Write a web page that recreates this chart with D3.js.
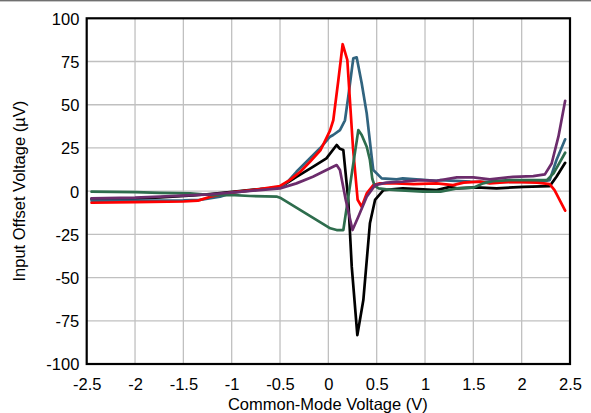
<!DOCTYPE html>
<html>
<head>
<meta charset="utf-8">
<script src="https://cdn.jsdelivr.net/npm/d3@7"></script>
<style>
html,body{margin:0;padding:0;background:#fff;}
svg{display:block;font-family:"Liberation Sans",Arial,sans-serif;}
</style>
</head>
<body>
<svg id="chart" width="591" height="413"></svg>
<script>
// ---- data ----
const xTicks = [-2.5,-2,-1.5,-1,-0.5,0,0.5,1,1.5,2,2.5];
const xTickLabels = ["-2.5","-2","-1.5","-1","-0.5","0","0.5","1","1.5","2","2.5"];
const yTicks = [-100,-75,-50,-25,0,25,50,75,100];
const yTickLabels = ["-100","-75","-50","-25","0","25","50","75","100"];
const xTitle = "Common-Mode Voltage (V)";
const yTitle = "Input Offset Voltage (µV)";

const blackV = [-2.45,-2.0,-1.74,-1.4,-1.2,-1.02,-0.71,-0.5,-0.33,-0.16,-0.02,0.086,0.12,0.155,0.206,0.242,0.3,0.362,0.43,0.483,0.57,0.77,0.98,1.12,1.26,1.33,1.53,1.74,2.02,2.29,2.36,2.45];
const blackUV = [-4.5,-4.3,-3.6,-2.5,-1.5,-0.5,1.2,2.2,8.3,14.1,19,26.7,24.5,23.8,-5,-43.7,-83.3,-63,-18.6,-5.1,0.6,1.6,1,0.6,2.5,1.6,2.2,1.6,2.5,2.9,8.3,16.4];

const blueV = [-2.45,-2.0,-1.5,-1.33,-1.12,-1.0,-0.71,-0.5,-0.42,-0.33,-0.19,-0.086,0.017,0.05,0.12,0.172,0.206,0.258,0.293,0.345,0.397,0.448,0.465,0.552,0.707,0.77,1.12,1.16,1.47,1.81,2.19,2.29,2.36,2.45];
const blueUV = [-5.5,-5.5,-5.3,-5.0,-3.2,-1.0,1.0,2.2,5.5,11.2,19,24.8,31.5,32.5,35.3,41,54.6,76.8,77.4,62.4,45,19.9,12.2,7.4,6.8,7.4,6,6.4,5.5,5.4,5.4,6.4,18,30];

const redV = [-2.45,-2.0,-1.5,-1.35,-1.22,-1.02,-0.71,-0.5,-0.4,-0.29,-0.19,-0.08,0.017,0.051,0.103,0.148,0.196,0.255,0.303,0.345,0.397,0.465,0.534,0.7,0.88,1.12,1.29,1.4,1.57,1.67,1.91,2.16,2.29,2.34,2.45];
const redUV = [-6.7,-6.3,-6.0,-5.5,-3.2,-0.9,1.2,3,6.4,11.2,17,23.8,35,41,64,85,76,25,-5,-9,-1.3,3.5,4.5,4.5,4.1,4.5,3.5,4.9,5.5,4.5,5.4,4.9,4.1,0.6,-11.3];

const greenV = [-2.45,-2.0,-1.74,-1.43,-1.2,-1.02,-0.81,-0.53,-0.5,0.02,0.086,0.155,0.31,0.345,0.397,0.43,0.455,0.48,0.52,0.6,0.707,0.98,1.16,1.33,1.5,1.6,1.7,1.88,1.98,2.26,2.33,2.45];
const greenUV = [-0.3,-0.6,-1.0,-1.3,-2.3,-2.2,-2.8,-3.2,-3.8,-21.5,-22.5,-22.5,35.3,32.5,25.7,18,7,3,1.6,1,0.6,-0.3,-0.3,1.6,2,4.5,5.8,6.4,6.4,6.4,10.3,22.2];

const purpleV = [-2.45,-2.0,-1.74,-1.22,-1.02,-0.71,-0.5,-0.33,-0.16,0.017,0.086,0.12,0.18,0.25,0.31,0.397,0.483,0.6,0.77,0.95,1.12,1.33,1.5,1.67,1.91,2.12,2.24,2.31,2.38,2.45];
const purpleUV = [-4.2,-3.8,-3.2,-1.9,-0.9,0.6,1.6,4.5,8.3,13.2,15.1,12.2,-5.1,-22.5,-14.8,-3.2,3.5,4.9,5.5,6.4,6,8,8,6.8,8.3,8.7,9.7,16,31.5,52.3];

const seriesList = [
  {name:"black",  v:blackV,  uv:blackUV,  color:"#000000"},
  {name:"blue",   v:blueV,   uv:blueUV,   color:"#31647f"},
  {name:"red",    v:redV,    uv:redUV,    color:"#ff0000"},
  {name:"green",  v:greenV,  uv:greenUV,  color:"#2e6d4d"},
  {name:"purple", v:purpleV, uv:purpleUV, color:"#6c2c6c"}
];

// ---- drawing ----
const svg = d3.select("#chart");
const L = 86.7, R = 570, T = 18.3, B = 364;
const x = d3.scaleLinear().domain([-2.5,2.5]).range([L,R]);
const y = d3.scaleLinear().domain([-100,100]).range([B,T]);

// top gray rule
svg.append("rect").attr("x",0).attr("y",0).attr("width",591).attr("height",1.4).attr("fill","#707070");

// grid
const grid = svg.append("g");
grid.selectAll("line.v").data(xTicks.slice(1,-1)).enter().append("line")
  .attr("x1",d=>x(d)).attr("x2",d=>x(d)).attr("y1",T).attr("y2",B)
  .attr("stroke","#c0c0c0").attr("stroke-width",1.3);
grid.selectAll("line.h").data(yTicks.slice(1,-1)).enter().append("line")
  .attr("y1",d=>y(d)).attr("y2",d=>y(d)).attr("x1",L).attr("x2",R)
  .attr("stroke","#c0c0c0").attr("stroke-width",1.3);

// axes (labels only)
const xAxis = d3.axisBottom(x).tickValues(xTicks).tickSize(0).tickPadding(0)
  .tickFormat((d,i)=>xTickLabels[i]);
const gx = svg.append("g").attr("transform",`translate(0,${B})`).call(xAxis);
gx.select(".domain").remove();
gx.selectAll("text").attr("y",25.5).attr("dy",null)
  .style("font-size","16.5px").style("font-family","Liberation Sans, Arial, sans-serif").attr("fill","#000");

const yAxis = d3.axisLeft(y).tickValues(yTicks).tickSize(0).tickPadding(7.4)
  .tickFormat((d,i)=>yTickLabels[i]);
const gy = svg.append("g").attr("transform",`translate(${L},0)`).call(yAxis);
gy.select(".domain").remove();
gy.selectAll("text").attr("dy","0.36em")
  .style("font-size","16.5px").style("font-family","Liberation Sans, Arial, sans-serif").attr("fill","#000");

// series
const line = d3.line().x(d=>x(d[0])).y(d=>y(d[1]));
const clip = svg.append("clipPath").attr("id","pc").append("rect")
  .attr("x",L).attr("y",T).attr("width",R-L).attr("height",B-T);
const gs = svg.append("g").attr("clip-path","url(#pc)");
seriesList.forEach(s=>{
  const pts = s.v.map((vv,i)=>[vv,s.uv[i]]);
  gs.append("path").datum(pts).attr("d",line)
    .attr("fill","none").attr("stroke",s.color).attr("stroke-width",2.7)
    .attr("stroke-linejoin","round").attr("stroke-linecap","round");
});

// frame
svg.append("rect").attr("x",L).attr("y",T).attr("width",R-L).attr("height",B-T)
  .attr("fill","none").attr("stroke","#000").attr("stroke-width",2.2);

// titles
svg.append("text").attr("x",(L+R)/2-0.5).attr("y",409.5).attr("text-anchor","middle")
  .style("font-size","16.5px").text(xTitle);
svg.append("text").attr("transform",`translate(25,${(T+B)/2}) rotate(-90)`)
  .attr("text-anchor","middle").style("font-size","16.5px").text(yTitle);
</script>
</body>
</html>
